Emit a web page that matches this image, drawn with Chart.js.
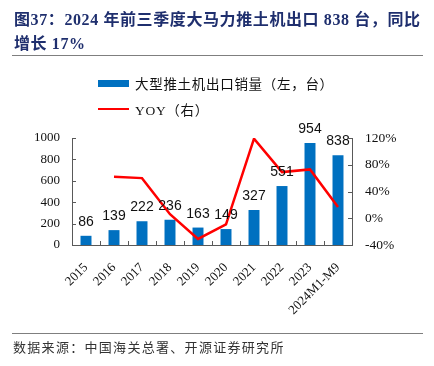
<!DOCTYPE html>
<html lang="zh">
    <head>
        <meta charset="utf-8">
        <script src="https://cdn.jsdelivr.net/npm/chart.js@4.4.1/dist/chart.umd.min.js"></script>
        <title>大马力推土机出口</title>
        <style>
            body { margin: 0; background: #fff; }
            #wrap { position: relative; width: 434px; height: 366px; overflow: hidden; }
            #myChart { position: absolute; left: 0; top: 0; }
            .title {
                position: absolute; left: 14px; top: 8px; width: 415px;
                font: bold 16px "Liberation Serif", "Noto Sans CJK SC", serif;
                line-height: 24px; color: #1f2f6e; letter-spacing: 0.6px;
            }
            .rule { position: absolute; left: 12px; width: 411px; height: 1px; background: #7f7f7f; }
            .legend { position: absolute; left: 98px; font: 13.5px "Liberation Serif", "Noto Sans CJK SC", serif; color: #111; letter-spacing: 0.7px; }
            .legend div { height: 26px; display: flex; align-items: center; }
            .legend span.mark { display: inline-block; width: 31px; margin-right: 6px; }
            .source {
                position: absolute; left: 13px; top: 337px;
                font: 13px "Noto Sans CJK SC", sans-serif; color: #333; letter-spacing: 1.3px;
            }
        </style>
    </head>
    <body>
        <div id="wrap">
            <canvas id="myChart" width="434" height="366"></canvas>
            <div class="title">图37：2024 年前三季度大马力推土机出口 838 台，同比<br>增长 17%</div>
            <div class="rule" style="top:55px"></div>
            <div class="legend" id="legend" style="top:70px"></div>
            <div class="rule" style="top:333px"></div>
            <div class="source">数据来源：中国海关总署、开源证券研究所</div>
        </div>

        <script>
            // data
            const years = ['2015', '2016', '2017', '2018', '2019', '2020', '2021', '2022', '2023', '2024M1-M9'];
            const exports = [86, 139, 222, 236, 163, 149, 327, 551, 954, 838];
            const yoy = [null, 62, 60, 6, -31, -9, 119, 69, 73, 17];
            const leftTicks = [0, 200, 400, 600, 800, 1000];
            const rightTicks = [-40, 0, 40, 80, 120];

            const axisColor = '#595959';
            const serif = 'Liberation Serif';

            // value labels above bars
            const barLabels = {
                id: 'barLabels',
                afterDatasetsDraw(chart) {
                    const ctx = chart.ctx;
                    const meta = chart.getDatasetMeta(1);
                    ctx.save();
                    ctx.font = '14px "Liberation Sans"';
                    ctx.fillStyle = '#111';
                    ctx.textAlign = 'center';
                    ctx.textBaseline = 'alphabetic';
                    meta.data.forEach((bar, i) => {
                        ctx.fillText(exports[i], bar.x, bar.y - 10);
                    });
                    ctx.restore();
                }
            };

            // small tick marks pointing into the plot
            const innerTicks = {
                id: 'innerTicks',
                afterDraw(chart) {
                    const ctx = chart.ctx;
                    const area = chart.chartArea;
                    const x = chart.scales.x, y = chart.scales.y, y1 = chart.scales.y1;
                    ctx.save();
                    ctx.strokeStyle = axisColor;
                    ctx.lineWidth = 1;
                    ctx.beginPath();
                    y.ticks.forEach(t => {
                        const py = Math.round(y.getPixelForValue(t.value)) + 0.5;
                        ctx.moveTo(area.left, py);
                        ctx.lineTo(area.left + 4, py);
                    });
                    y1.ticks.forEach(t => {
                        const py = Math.round(y1.getPixelForValue(t.value)) + 0.5;
                        ctx.moveTo(area.right, py);
                        ctx.lineTo(area.right - 4, py);
                    });
                    for (let i = 0; i < years.length - 1; i++) {
                        const px = Math.round((x.getPixelForTick(i) + x.getPixelForTick(i + 1)) / 2) + 0.5;
                        ctx.moveTo(px, area.bottom);
                        ctx.lineTo(px, area.bottom - 4);
                    }
                    ctx.stroke();
                    ctx.restore();
                }
            };

            let myChart = document.getElementById('myChart').getContext('2d');
            let chart = new Chart(myChart, {
                type: 'bar',
                data: {
                    labels: years,
                    datasets: [{
                        type: 'line',
                        label: 'YOY（右）',
                        data: yoy,
                        yAxisID: 'y1',
                        borderColor: '#ff0000',
                        backgroundColor: '#ff0000',
                        borderWidth: 2.5,
                        pointRadius: 0,
                        tension: 0,
                        order: 0
                    }, {
                        label: '大型推土机出口销量（左，台）',
                        data: exports,
                        yAxisID: 'y',
                        backgroundColor: '#0070c0',
                        barPercentage: 0.49,
                        categoryPercentage: 0.8,
                        order: 1
                    }]
                },
                options: {
                    responsive: false,
                    animation: false,
                    layout: { padding: { top: 138, left: 0, right: 0, bottom: 0 } },
                    plugins: {
                        legend: { display: false },
                        tooltip: { enabled: false }
                    },
                    scales: {
                        x: {
                            grid: { display: false, drawTicks: false },
                            border: { display: true, color: axisColor },
                            ticks: {
                                color: '#111',
                                font: { family: serif, size: 13 },
                                minRotation: 45,
                                maxRotation: 45,
                                padding: 15,
                                autoSkip: false
                            },
                            afterFit(scale) { scale.height = 121; }
                        },
                        y: {
                            position: 'left',
                            min: 0,
                            max: 1000,
                            grid: { display: false, drawTicks: false },
                            border: { display: true, color: axisColor },
                            afterBuildTicks(scale) { scale.ticks = leftTicks.map(v => ({ value: v })); },
                            ticks: {
                                color: '#111',
                                font: { family: serif, size: 13 },
                                padding: 12,
                                callback: v => String(v)
                            },
                            afterFit(scale) { scale.width = 72; }
                        },
                        y1: {
                            position: 'right',
                            min: -40,
                            max: 120,
                            grid: { display: false, drawTicks: false },
                            border: { display: true, color: axisColor },
                            afterBuildTicks(scale) { scale.ticks = rightTicks.map(v => ({ value: v })); },
                            ticks: {
                                color: '#111',
                                font: { family: serif, size: 13.5 },
                                padding: 13,
                                callback: v => v + '%'
                            },
                            afterFit(scale) { scale.width = 82; }
                        }
                    }
                },
                plugins: [barLabels, innerTicks]
            });

            // two-row legend built from the datasets, bar first
            const legend = document.getElementById('legend');
            [chart.data.datasets[1], chart.data.datasets[0]].forEach(ds => {
                const row = document.createElement('div');
                const mark = document.createElement('span');
                mark.className = 'mark';
                mark.style.height = ds.type === 'line' ? '2.5px' : '7px';
                mark.style.background = ds.type === 'line' ? ds.borderColor : ds.backgroundColor;
                row.appendChild(mark);
                row.appendChild(document.createTextNode(ds.label));
                legend.appendChild(row);
            });
        </script>
    </body>
</html>
